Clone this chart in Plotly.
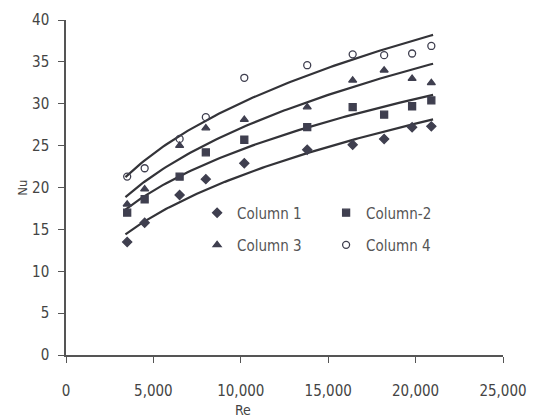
import numpy as np
import plotly.graph_objects as go

re_vals = [3500, 4500, 6500, 8000, 10200, 13800, 16400, 18200, 19800, 20900]
col1 = [13.5, 15.8, 19.1, 21.0, 22.9, 24.5, 25.1, 25.8, 27.2, 27.3]
col2 = [17.0, 18.6, 21.3, 24.2, 25.7, 27.2, 29.6, 28.7, 29.7, 30.4]
col3 = [18.0, 19.8, 25.0, 27.1, 28.1, 29.6, 32.8, 34.0, 33.0, 32.5]
col4 = [21.3, 22.3, 25.8, 28.4, 33.1, 34.6, 35.9, 35.8, 36.0, 36.9]
names = ["Column 1", "Column-2", "Column 3", "Column 4"]
x_ticks = [0, 5000, 10000, 15000, 20000, 25000]
y_ticks = [0, 5, 10, 15, 20, 25, 30, 35, 40]

series = [col1, col2, col3, col4]
symbols = ["diamond", "square", "triangle-up", "circle-open"]
legends = ["legend", "legend", "legend2", "legend2"]
mcolor = "#3f3f4f"
font = "DejaVu Sans Condensed, Liberation Sans Narrow, Roboto Condensed, Liberation Sans, Arial"

fig = go.Figure()
re_arr = np.array(re_vals, dtype=float)
re_line = np.linspace(re_arr.min() - 100, re_arr.max() + 100, 100)
for ys in series:
    b, ln_a = np.polyfit(np.log(re_arr), np.log(np.array(ys)), 1)
    fig.add_trace(go.Scatter(x=re_line, y=np.exp(ln_a) * re_line ** b, mode="lines",
                             line=dict(color="#333338", width=2.2), showlegend=False,
                             hoverinfo="skip"))
for ys, nm, sym, lg in zip(series, names, symbols, legends):
    fig.add_trace(go.Scatter(x=re_vals, y=ys, mode="markers", name=nm, legend=lg,
                             marker=dict(symbol=sym, size=7, color=mcolor,
                                         line=dict(color=mcolor, width=1.3))))

leg_common = dict(orientation="h", xanchor="left", yanchor="middle",
                  entrywidth=84, entrywidthmode="pixels", bgcolor="rgba(0,0,0,0)",
                  itemwidth=30, font=dict(size=15, color="#555"))

fig.update_layout(
    width=535, height=419,
    margin=dict(l=66, r=32, t=20, b=64, autoexpand=False),
    paper_bgcolor="white", plot_bgcolor="white",
    font=dict(family=font, size=15, color="#444"),
    legend=dict(x=0.30, y=0.424, **leg_common),
    legend2=dict(x=0.30, y=0.328, **leg_common),
    xaxis=dict(range=[0, 25000], tickvals=x_ticks, tickformat=",d",
               showgrid=False, zeroline=False, showline=True, linecolor="#555",
               linewidth=1.5, ticks="outside", ticklen=6, tickcolor="#555",
               ticklabelstandoff=15),
    yaxis=dict(range=[0, 40], tickvals=y_ticks, showgrid=False, zeroline=False,
               showline=True, linecolor="#555", linewidth=1.5, ticks="outside",
               ticklen=6, tickcolor="#555", ticklabelstandoff=6),
    annotations=[
        dict(text="Re", x=10100, y=-0.165, xref="x", yref="paper",
             xanchor="center", yanchor="middle",
             showarrow=False, font=dict(size=14, color="#444")),
        dict(text="Nu", x=-0.10, y=20, xref="paper", yref="y",
             xanchor="center", yanchor="middle",
             textangle=-90, showarrow=False, font=dict(size=13, color="#444")),
    ],
)
fig.write_html("out.html")
